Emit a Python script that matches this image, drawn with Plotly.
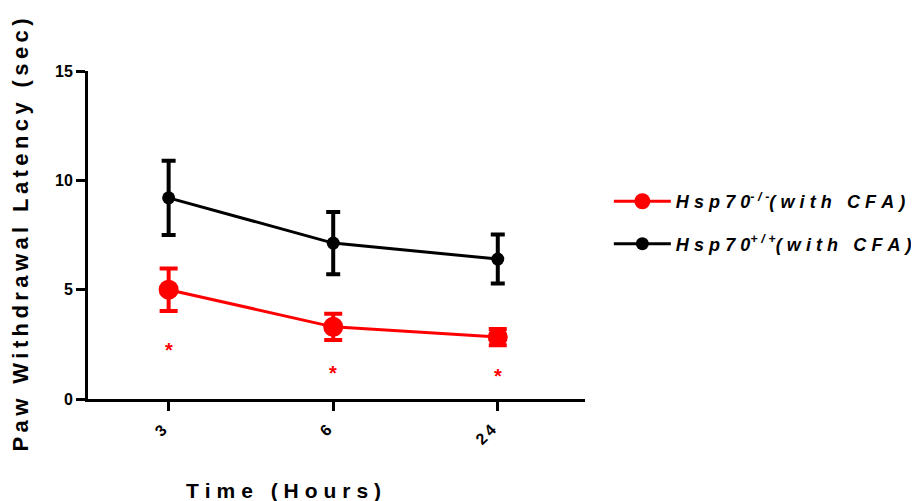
import plotly.graph_objects as go

time_labels = ["3", "6", "24"]
ko_mean = [5.0, 3.3, 2.83]
ko_err = [0.97, 0.6, 0.37]
wt_mean = [9.2, 7.13, 6.4]
wt_err = [1.7, 1.42, 1.12]
star_y = [2.35, 1.3, 1.15]

FONT = "Liberation Sans, Arial, sans-serif"
THIN = "\u2009"
WIDE = "\u2009\u200a"


def spaced(s, sp=WIDE):
    return sp.join(list(s))


fig = go.Figure()
fig.add_trace(go.Scatter(
    x=time_labels, y=wt_mean, mode="lines+markers",
    name="<b><i>" + spaced("Hsp70") + "<sup>" + spaced("+/+") + "</sup>" + spaced("(with CFA)") + "</i></b>",
    line=dict(color="black", width=3),
    marker=dict(color="black", size=13),
    error_y=dict(type="data", array=wt_err, color="black", thickness=4, width=7),
    legendgroup="b", legendrank=2,
))
fig.add_trace(go.Scatter(
    x=time_labels, y=ko_mean, mode="lines+markers",
    name="<b><i>" + spaced("Hsp70") + "<sup>" + spaced("-/-") + "</sup>" + spaced("(with CFA)") + "</i></b>",
    line=dict(color="#ff0000", width=3),
    marker=dict(color="#ff0000", size=20),
    error_y=dict(type="data", array=ko_err, color="#ff0000", thickness=4, width=9),
    legendgroup="a", legendrank=1,
))
for i, yv in enumerate(star_y):
    fig.add_annotation(x=i, y=yv, xref="x", yref="y", text="<b>*</b>", showarrow=False,
                       yshift=-2, font=dict(color="#ff0000", size=20, family=FONT))

# rotated category tick labels
for i, lab in enumerate(time_labels):
    fig.add_annotation(x=i, y=-(418 - 399) / 328, xref="x", yref="paper",
                       text="<b>" + spaced(lab, THIN) + "</b>", showarrow=False, textangle=-45,
                       xanchor="right", yanchor="top", xshift=4,
                       font=dict(size=16, family=FONT, color="black"))

fig.add_annotation(xref="paper", yref="paper", x=(283 - 88) / 497, y=-(490 - 399) / 328,
                   xanchor="center", yanchor="middle",
                   text="<b>" + spaced("Time (Hours)") + "</b>", showarrow=False,
                   font=dict(size=21, family=FONT, color="black"))

fig.update_layout(
    width=903, height=493,
    margin=dict(l=80, r=326, t=63, b=102, autoexpand=False),
    plot_bgcolor="white", paper_bgcolor="white",
    font=dict(family=FONT, color="black"),
    showlegend=True,
    legend=dict(x=1.048, y=0.538, xanchor="left", yanchor="middle",
                font=dict(size=18, family=FONT), traceorder="grouped",
                tracegroupgap=16, itemwidth=57),
    xaxis=dict(type="category", range=[-0.49, 2.53], showline=True, linecolor="black",
               linewidth=3, ticks="outside", ticklen=9, tickwidth=3, tickcolor="black",
               showticklabels=False,
               showgrid=False, zeroline=False, automargin=False),
    yaxis=dict(range=[0, 15], tickvals=[0, 5, 10, 15], showline=True, linecolor="black",
               linewidth=3, ticks="outside", ticklen=9, tickwidth=3, tickcolor="black",
               tickfont=dict(size=16, family=FONT, weight="bold"),
               showgrid=False, zeroline=False, automargin=False,
               title=dict(text="<b>" + spaced("Paw Withdrawal Latency (sec)", THIN) + "</b>",
                          font=dict(size=22, family=FONT), standoff=24)),
)

fig.write_html("out.html")
